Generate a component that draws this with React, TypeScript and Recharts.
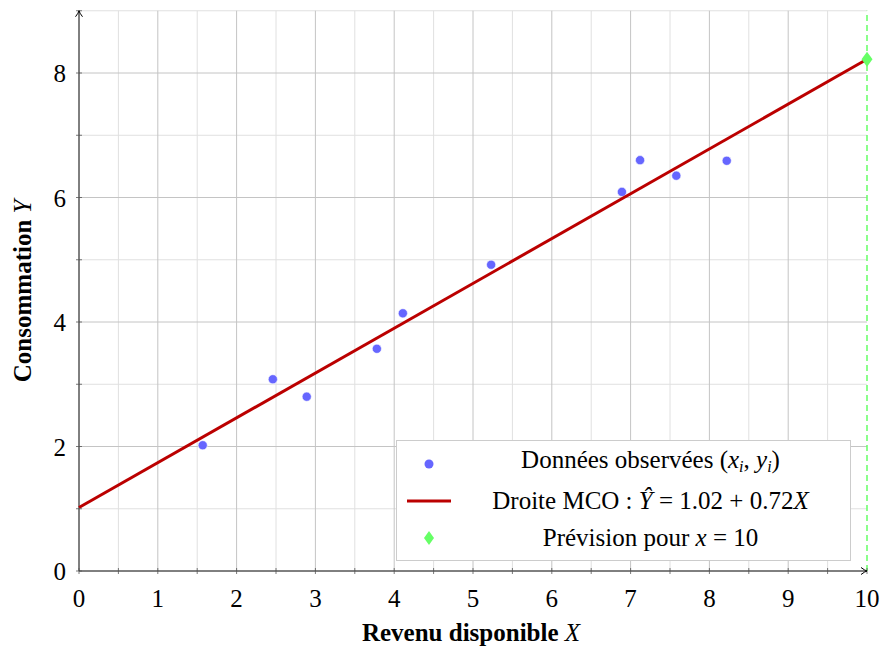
import React from "react";
import {
  ComposedChart,
  Label,
  ReferenceLine,
  Scatter,
  XAxis,
  YAxis,
} from "recharts";

// observed (x_i, y_i)
const obsX = [1.57, 2.46, 2.89, 3.78, 4.11, 5.23, 6.89, 7.12, 7.58, 8.22];
const obsY = [2.02, 3.08, 2.8, 3.57, 4.14, 4.92, 6.09, 6.6, 6.35, 6.59];

const intercept = 1.02;
const slope = 0.72;
const fitX = [0, 10];
const predX = 10;

const xTicks = [0, 0.5, 1, 1.5, 2, 2.5, 3, 3.5, 4, 4.5, 5, 5.5, 6, 6.5, 7, 7.5, 8, 8.5, 9, 9.5, 10];
const yTicks = [0, 1, 2, 3, 4, 5, 6, 7, 8, 9];
const xMajorGrid = [1, 2, 3, 4, 5, 6, 7, 8, 9];
const xMinorGrid = [0.5, 1.5, 2.5, 3.5, 4.5, 5.5, 6.5, 7.5, 8.5, 9.5];
const yMajorGrid = [2, 4, 6, 8];
const yMinorGrid = [1, 3, 5, 7, 9];

const observed = obsX.map((x, i) => ({ x, y: obsY[i] }));
const fitLine = fitX.map((x) => ({ x, y: intercept + slope * x }));
const prediction = [{ x: predX, y: intercept + slope * predX }];

const FONT = "'Liberation Serif', 'DejaVu Serif', serif";
const BLUE = "#6666ff";
const RED = "#bb0000";
const GREEN = "#66ff66";

const XTick = (props: any) => {
  const { x, y, payload } = props;
  const v = payload.value;
  const isInt = Number.isInteger(v);
  return (
    <g>
      <line x1={x} x2={x} y1={y - 3} y2={y + 3} stroke="#555" strokeWidth={0.8} />
      {isInt && (
        <text x={x} y={y + 36} textAnchor="middle" fontSize={25} fontFamily={FONT} fill="#000">
          {v}
        </text>
      )}
      {v === 10 && (
        <path d={`M${x - 6},${y - 3.5} Q${x - 2},${y - 0.5} ${x},${y} Q${x - 2},${y + 0.5} ${x - 6},${y + 3.5}`} fill="none" stroke="#000" strokeWidth={1} />
      )}
    </g>
  );
};

const YTick = (props: any) => {
  const { x, y, payload } = props;
  const v = payload.value;
  const labelled = v % 2 === 0 && v < 9;
  return (
    <g>
      <line x1={x - 3} x2={x + 3} y1={y} y2={y} stroke="#555" strokeWidth={0.8} />
      {labelled && (
        <text x={x - 13} y={y + 9} textAnchor="end" fontSize={25} fontFamily={FONT} fill="#000">
          {v}
        </text>
      )}
      {v === 9 && (
        <path d={`M${x - 3.5},${y + 6} Q${x - 0.5},${y + 2} ${x},${y} Q${x + 0.5},${y + 2} ${x + 3.5},${y + 6}`} fill="none" stroke="#000" strokeWidth={1} />
      )}
    </g>
  );
};

const Diamond = (props: any) => {
  const { cx, cy } = props;
  return <path d={`M${cx},${cy - 7.5} L${cx + 5.5},${cy} L${cx},${cy + 7.5} L${cx - 5.5},${cy} Z`} fill={GREEN} />;
};

const Dot = (props: any) => {
  const { cx, cy } = props;
  return <circle cx={cx} cy={cy} r={4.6} fill={BLUE} stroke="#fff" strokeWidth={0.6} />;
};

const NoShape = () => null;

const LegendBox = () => {
  const row: React.CSSProperties = {
    display: "flex",
    alignItems: "center",
    height: 37,
  };
  const mark: React.CSSProperties = {
    width: 56,
    display: "flex",
    justifyContent: "center",
    alignItems: "center",
  };
  const txt: React.CSSProperties = { flex: 1, textAlign: "center", whiteSpace: "nowrap" };
  const sub: React.CSSProperties = { fontSize: 16, fontStyle: "italic", verticalAlign: "-4px" };
  return (
    <div
      style={{
        position: "absolute",
        left: 396,
        top: 440,
        width: 455,
        height: 121,
        boxSizing: "border-box",
        border: "1px solid #cccccc",
        background: "#fff",
        fontFamily: FONT,
        fontSize: 25,
        lineHeight: "30px",
        padding: "4px 6px 0 4px",
        color: "#000",
      }}
    >
      <div style={row}>
        <div style={mark}>
          <svg width={12} height={12}>
            <circle cx={6} cy={6} r={4.5} fill={BLUE} />
          </svg>
        </div>
        <div style={txt}>
          Données observées (<i>x</i>
          <span style={sub}>i</span>, <i>y</i>
          <span style={sub}>i</span>)
        </div>
      </div>
      <div style={row}>
        <div style={mark}>
          <svg width={48} height={6}>
            <line x1={2} x2={46} y1={3} y2={3} stroke={RED} strokeWidth={3} />
          </svg>
        </div>
        <div style={txt}>
          Droite MCO : <i>Ŷ</i> = 1.02 + 0.72<i>X</i>
        </div>
      </div>
      <div style={row}>
        <div style={mark}>
          <svg width={12} height={16}>
            <path d="M6,1 L11,8 L6,15 L1,8 Z" fill={GREEN} />
          </svg>
        </div>
        <div style={txt}>
          Prévision pour <i>x</i> = 10
        </div>
      </div>
    </div>
  );
};

const XTitle = (props: any) => {
  const { viewBox } = props;
  const cx = viewBox.x + viewBox.width / 2;
  return (
    <text x={cx - 2} y={641} textAnchor="middle" fontFamily={FONT} fontSize={25} fill="#000">
      <tspan fontWeight="bold">Revenu disponible </tspan>
      <tspan fontStyle="italic">X</tspan>
    </text>
  );
};

const YTitle = (props: any) => {
  const { viewBox } = props;
  const cy = viewBox.y + viewBox.height / 2;
  const x = 31;
  return (
    <text
      x={x}
      y={cy}
      transform={`rotate(-90 ${x} ${cy})`}
      textAnchor="middle"
      fontFamily={FONT}
      fontSize={25}
      fill="#000"
    >
      <tspan fontWeight="bold">Consommation </tspan>
      <tspan fontStyle="italic">Y</tspan>
    </text>
  );
};

export default function App() {
  return (
    <div style={{ position: "absolute", left: 0, top: 0, width: 882, height: 650, background: "#fff" }}>
      <ComposedChart
        width={882}
        height={650}
        margin={{ top: 10.75, right: 15, bottom: 39, left: 29 }}
      >
        <XAxis
          type="number"
          dataKey="x"
          domain={[0, 10]}
          ticks={xTicks}
          interval={0}
          tick={<XTick />}
          tickLine={false}
          tickSize={0}
          tickMargin={0}
          height={40}
          axisLine={{ stroke: "#000", strokeWidth: 1 }}
        >
          <Label content={<XTitle />} />
        </XAxis>
        <YAxis
          type="number"
          dataKey="y"
          domain={[0, 9]}
          ticks={yTicks}
          interval={0}
          tick={<YTick />}
          tickLine={false}
          tickSize={0}
          tickMargin={0}
          width={50}
          axisLine={{ stroke: "#000", strokeWidth: 1 }}
        >
          <Label content={<YTitle />} />
        </YAxis>
        {xMinorGrid.map((v) => (
          <ReferenceLine key={"xm" + v} x={v} stroke="#e0e0e0" strokeWidth={1} />
        ))}
        {yMinorGrid.map((v) => (
          <ReferenceLine key={"ym" + v} y={v} stroke="#e0e0e0" strokeWidth={1} />
        ))}
        {xMajorGrid.map((v) => (
          <ReferenceLine key={"xM" + v} x={v} stroke="#c4c4c4" strokeWidth={1} />
        ))}
        {yMajorGrid.map((v) => (
          <ReferenceLine key={"yM" + v} y={v} stroke="#c4c4c4" strokeWidth={1} />
        ))}
        <ReferenceLine x={predX} stroke={GREEN} strokeWidth={1.5} strokeDasharray="6 4" />
        <Scatter data={observed} shape={<Dot />} isAnimationActive={false} />
        <Scatter
          data={fitLine}
          line={{ stroke: RED, strokeWidth: 3 }}
          shape={<NoShape />}
          isAnimationActive={false}
        />
        <Scatter data={prediction} shape={<Diamond />} isAnimationActive={false} />
      </ComposedChart>
      <LegendBox />
    </div>
  );
}
